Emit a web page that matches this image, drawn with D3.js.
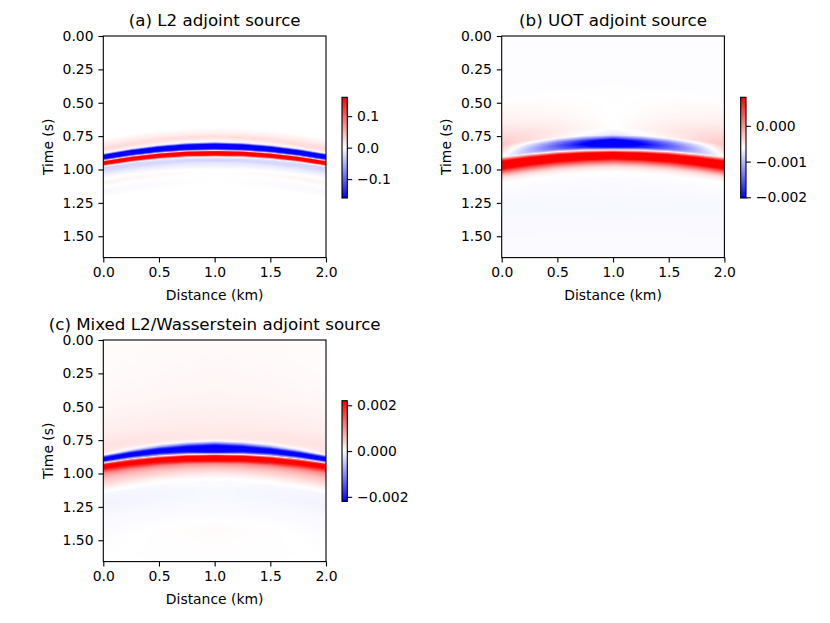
<!DOCTYPE html>
<html>
<head>
<meta charset="utf-8">
<script src="https://cdn.jsdelivr.net/npm/d3@7"></script>
<style>
  body { margin: 0; background: #fff; }
  text { font-family: "DejaVu Sans", sans-serif; fill: #000; }
</style>
</head>
<body>
<script>
// grid / ticks
var distance = [0, 0.25, 0.5, 0.75, 1.0, 1.25, 1.5, 1.75, 2.0];
var xTicks = [0, 0.5, 1.0, 1.5, 2.0];
var yTicks = [0, 0.25, 0.5, 0.75, 1.0, 1.25, 1.5];
var timeMax = 1.66;

// (a) L2 adjoint source : arrival of the blue lobe, trace profile around it (centre and far offset)
var arrivalA = [0.909, 0.875, 0.850, 0.834, 0.829, 0.834, 0.850, 0.875, 0.909];
var offCenterA = [-0.14, -0.1, -0.075, -0.05, -0.036, -0.024, -0.012, 0.008, 0.02, 0.027, 0.033, 0.042, 0.058, 0.068, 0.076, 0.088, 0.1, 0.12, 0.14, 0.17];
var ampCenterA = [0, 0.01, 0.022, 0.008, 0, -0.12, -0.24, -0.24, -0.12, 0, 0.12, 0.24, 0.24, 0.09, 0, -0.02, -0.03, -0.015, -0.01, 0];
var offEdgeA = [-0.14, -0.09, -0.06, -0.04, -0.03, -0.02, -0.008, 0.006, 0.016, 0.023, 0.029, 0.037, 0.05, 0.06, 0.066, 0.075, 0.09, 0.11, 0.13, 0.16, 0.19, 0.22, 0.26, 0.3];
var ampEdgeA = [0, 0.015, 0.025, 0.01, 0, -0.12, -0.24, -0.24, -0.11, 0, 0.12, 0.24, 0.24, 0.08, 0, -0.03, -0.025, -0.02, -0.01, 0, 0.008, 0, -0.005, 0];
var cbarA = [-0.16, 0.16];
var cbarTicksA = [-0.1, 0.0, 0.1];

// (b) UOT adjoint source : arrival of the red lobe
var arrivalB = [0.960, 0.931, 0.909, 0.896, 0.891, 0.896, 0.909, 0.931, 0.960];
var offCenterB = [-0.6, -0.2, -0.15, -0.13, -0.11, -0.088, -0.065, -0.052, -0.044, -0.038, -0.03, -0.02, 0, 0.02, 0.035, 0.05, 0.07, 0.09, 0.12, 0.2, 0.4, 0.8];
var ampCenterB = [-0.62e-3, -0.61e-3, -0.75e-3, -1.5e-3, -2.3e-3, -2.6e-3, -2.3e-3, -1.6e-3, -1.0e-3, -0.6e-3, 0.0, 0.8e-3, 1.2e-3, 1.0e-3, 0.6e-3, 0.2e-3, -0.2e-3, -0.45e-3, -0.6e-3, -0.64e-3, -0.65e-3, -0.63e-3];
var offEdgeB = [-0.5, -0.3, -0.2, -0.15, -0.1, -0.07, -0.055, -0.045, -0.035, -0.02, 0, 0.03, 0.055, 0.08, 0.1, 0.14, 0.3, 0.8];
var ampEdgeB = [-0.62e-3, -0.52e-3, -0.38e-3, -0.3e-3, -0.4e-3, -0.55e-3, -0.6e-3, -0.2e-3, 0.3e-3, 0.9e-3, 1.2e-3, 0.9e-3, 0.3e-3, -0.2e-3, -0.45e-3, -0.61e-3, -0.65e-3, -0.63e-3];
var cbarB = [-0.00202, 0.0008];
var cbarTicksB = [-0.002, -0.001, 0.0];

// (c) Mixed L2/Wasserstein adjoint source : arrival of the blue lobe
var arrivalC = [0.897, 0.862, 0.836, 0.820, 0.815, 0.820, 0.836, 0.862, 0.897];
var offCenterC = [-0.8, -0.45, -0.3, -0.15, -0.08, -0.06, -0.045, -0.03, 0, 0.025, 0.035, 0.04, 0.048, 0.07, 0.09, 0.11, 0.14, 0.18, 0.22, 0.3, 0.45, 0.6, 0.85];
var ampCenterC = [0.05e-3, 0.08e-3, 0.12e-3, 0.18e-3, 0.2e-3, 0, -0.9e-3, -2.0e-3, -2.8e-3, -2.2e-3, -0.9e-3, 0, 1.8e-3, 2.8e-3, 2.2e-3, 1.0e-3, 0.55e-3, 0.2e-3, 0, -0.06e-3, -0.05e-3, 0.04e-3, 0];
var offEdgeC = [-0.7, -0.4, -0.2, -0.1, -0.05, -0.035, -0.025, -0.01, 0.008, 0.018, 0.024, 0.032, 0.05, 0.07, 0.1, 0.14, 0.18, 0.22, 0.26, 0.35, 0.45, 0.75];
var ampEdgeC = [0.03e-3, 0.07e-3, 0.15e-3, 0.25e-3, 0.2e-3, 0, -1.3e-3, -2.6e-3, -2.2e-3, -0.7e-3, 0, 1.8e-3, 2.8e-3, 2.0e-3, 1.0e-3, 0.55e-3, 0.33e-3, 0.07e-3, -0.08e-3, -0.1e-3, -0.04e-3, 0];
var cbarC = [-0.0022, 0.0022];
var cbarTicksC = [-0.002, 0.0, 0.002];

var titles = ["(a) L2 adjoint source", "(b) UOT adjoint source", "(c) Mixed L2/Wasserstein adjoint source"];

var panels = [
  { title: titles[0], left: 103.3, top: 36, arrival: arrivalA, offC: offCenterA, ampC: ampCenterA, offE: offEdgeA, ampE: ampEdgeA,
    cbar: cbarA, cticks: cbarTicksA, cfmt: ".1f", cx: 342, cy: 97.3 },
  { title: titles[1], left: 501.7, top: 36, arrival: arrivalB, offC: offCenterB, ampC: ampCenterB, offE: offEdgeB, ampE: ampEdgeB,
    cbar: cbarB, cticks: cbarTicksB, cfmt: ".3f", cx: 740.7, cy: 97.3 },
  { title: titles[2], left: 103.3, top: 340, arrival: arrivalC, offC: offCenterC, ampC: ampCenterC, offE: offEdgeC, ampE: ampEdgeC,
    cbar: cbarC, cticks: cbarTicksC, cfmt: ".3f", cx: 342, cy: 400.7 }
];

var W = 222.7, H = 221.6, cbW = 5.3, cbH = 100.7;
var tickLen = 4.9, tickPad = 4.9, fs = 13.9;

var svg = d3.select("body").append("svg")
  .attr("width", 830).attr("height", 623);

var minus = function(s) { return s.replace("-", "\u2212"); };

panels.forEach(function(p) {
  var x = d3.scaleLinear().domain([0, 2]).range([0, W]);
  var y = d3.scaleLinear().domain([0, timeMax]).range([0, H]);
  var arr = d3.scaleLinear().domain(distance).range(p.arrival);
  var profC = d3.scaleLinear().domain(p.offC).range(p.ampC).clamp(true);
  var profE = d3.scaleLinear().domain(p.offE).range(p.ampE).clamp(true);
  var color = d3.scaleLinear()
    .domain([p.cbar[0], (p.cbar[0] + p.cbar[1]) / 2, p.cbar[1]])
    .range(["#0000ff", "#ffffff", "#ff0000"]).clamp(true);

  // heat map on a canvas, one cell per screen pixel
  var nx = Math.round(W), ny = Math.round(H);
  var canvas = document.createElement("canvas");
  canvas.width = nx; canvas.height = ny;
  var ctx = canvas.getContext("2d");
  var img = ctx.createImageData(nx, ny);
  for (var i = 0; i < nx; i++) {
    var d = x.invert((i + 0.5) * W / nx);
    var t0 = arr(d);
    var w = Math.min(1, Math.abs(d - 1));
    for (var j = 0; j < ny; j++) {
      var t = y.invert((j + 0.5) * H / ny);
      var v = (1 - w) * profC(t - t0) + w * profE(t - t0);
      var c = d3.rgb(color(v));
      var k = (j * nx + i) * 4;
      img.data[k] = c.r; img.data[k + 1] = c.g; img.data[k + 2] = c.b; img.data[k + 3] = 255;
    }
  }
  ctx.putImageData(img, 0, 0);

  var g = svg.append("g").attr("transform", "translate(" + p.left + "," + p.top + ")");
  g.append("image")
    .attr("href", canvas.toDataURL())
    .attr("width", W).attr("height", H)
    .attr("preserveAspectRatio", "none");

  var xAxis = g.append("g").attr("transform", "translate(0," + H + ")")
    .call(d3.axisBottom(x).tickValues(xTicks).tickFormat(d3.format(".1f")).tickSize(tickLen).tickPadding(tickPad));
  var yAxis = g.append("g")
    .call(d3.axisLeft(y).tickValues(yTicks).tickFormat(d3.format(".2f")).tickSize(tickLen).tickPadding(tickPad));
  [xAxis, yAxis].forEach(function(a) {
    a.select(".domain").remove();
    a.selectAll("line").attr("stroke", "#000").attr("stroke-width", 1.1);
    a.selectAll("text").style("font-family", "DejaVu Sans").style("font-size", fs + "px").attr("fill", "#000");
  });

  g.append("rect").attr("width", W).attr("height", H)
    .attr("fill", "none").attr("stroke", "#000").attr("stroke-width", 1.1);

  g.append("text").attr("x", W / 2).attr("y", -10.5)
    .attr("text-anchor", "middle").style("font-size", "16.7px").text(p.title);
  g.append("text").attr("x", W / 2).attr("y", H + 42.5)
    .attr("text-anchor", "middle").style("font-size", fs + "px").text("Distance (km)");
  g.append("text")
    .attr("transform", "translate(" + (-50.5) + "," + (H / 2) + ") rotate(-90)")
    .attr("text-anchor", "middle").style("font-size", fs + "px").text("Time (s)");

  // colour bar
  var gid = "grad" + p.title.charAt(1);
  var grad = svg.append("defs").append("linearGradient")
    .attr("id", gid).attr("x1", 0).attr("y1", 1).attr("x2", 0).attr("y2", 0);
  [0, 0.5, 1].forEach(function(o) {
    grad.append("stop").attr("offset", o)
      .attr("stop-color", color(p.cbar[0] + o * (p.cbar[1] - p.cbar[0])));
  });
  var cb = svg.append("g").attr("transform", "translate(" + p.cx + "," + p.cy + ")");
  var cy = d3.scaleLinear().domain(p.cbar).range([cbH, 0]);
  cb.append("rect").attr("width", cbW).attr("height", cbH).attr("fill", "url(#" + gid + ")");
  var cAxis = cb.append("g").attr("transform", "translate(" + cbW + ",0)")
    .call(d3.axisRight(cy).tickValues(p.cticks)
      .tickFormat(function(v) { return minus(d3.format(p.cfmt)(Math.abs(v) < 1e-12 ? 0 : v)); })
      .tickSize(tickLen).tickPadding(tickPad));
  cAxis.select(".domain").remove();
  cAxis.selectAll("line").attr("stroke", "#000").attr("stroke-width", 1.1);
  cAxis.selectAll("text").style("font-family", "DejaVu Sans").style("font-size", fs + "px").attr("fill", "#000");
  cb.append("rect").attr("width", cbW).attr("height", cbH)
    .attr("fill", "none").attr("stroke", "#000").attr("stroke-width", 1.1);
});
</script>
</body>
</html>
